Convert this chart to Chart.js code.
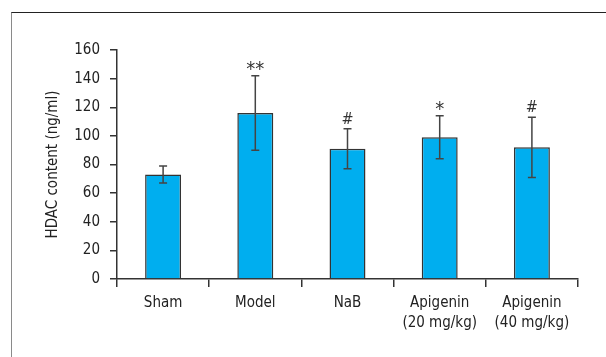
<!DOCTYPE html>
<html>
<head>
<meta charset="utf-8">
<script src="https://cdn.jsdelivr.net/npm/chart.js@4/dist/chart.umd.min.js"></script>
<style>
  html, body { margin: 0; padding: 0; background: #fff; }
  #wrap { position: relative; width: 606px; height: 357px; }
  #frame { position: absolute; left: 11px; top: 12px; right: 0; bottom: 0;
           border-left: 1.5px solid #8a8a8a; border-top: 1.5px solid #222; }
  canvas { position: absolute; left: 0; top: 0; }
</style>
</head>
<body>
<div id="wrap">
  <div id="frame"></div>
  <canvas id="hdacChart" width="606" height="357"></canvas>
</div>
<script>
// data
const groups = [["Sham"], ["Model"], ["NaB"], ["Apigenin", "(20 mg/kg)"], ["Apigenin", "(40 mg/kg)"]];
const hdacMean = [73, 116, 91, 99, 92];
const hdacSD = [6, 26, 14, 15, 21];
const marks = ["", "**", "#", "*", "#"];
const yTicks = [0, 20, 40, 60, 80, 100, 120, 140, 160];

const FONT = "'Liberation Sans Narrow', 'DejaVu Sans Condensed', 'Arial Narrow', sans-serif";

// error bars + significance marks
const errorBars = {
    id: "errorBars",
    afterDatasetsDraw(chart) {
        const ctx = chart.ctx;
        const x = chart.scales.x, y = chart.scales.y;
        ctx.save();
        ctx.strokeStyle = "#444";
        ctx.lineWidth = 1.5;
        hdacMean.forEach((m, i) => {
            const cx = x.getPixelForValue(i);
            const top = y.getPixelForValue(m + hdacSD[i]);
            const bot = y.getPixelForValue(m - hdacSD[i]);
            ctx.beginPath();
            ctx.moveTo(cx, top); ctx.lineTo(cx, bot);
            ctx.moveTo(cx - 4, top); ctx.lineTo(cx + 4, top);
            ctx.moveTo(cx - 4, bot); ctx.lineTo(cx + 4, bot);
            ctx.stroke();
            if (marks[i]) {
                const star = marks[i].includes("*");
                ctx.fillStyle = "#333";
                ctx.font = (star ? "20px " : "16px ") + FONT;
                ctx.textAlign = "center";
                ctx.textBaseline = "alphabetic";
                ctx.fillText(marks[i], cx, star ? top - 1 : top - 5);
            }
        });
        ctx.restore();
    }
};

new Chart(document.getElementById("hdacChart").getContext("2d"), {
    type: "bar",
    data: {
        labels: groups,
        datasets: [{
            data: hdacMean,
            backgroundColor: "#00AEEF",
            borderColor: "#333",
            borderWidth: 1.5,
            barPercentage: 0.39,
            categoryPercentage: 1
        }]
    },
    options: {
        responsive: false,
        animation: false,
        layout: { padding: { left: 40, top: 50, right: 28, bottom: 0 } },
        plugins: { legend: { display: false }, tooltip: { enabled: false } },
        scales: {
            x: {
                afterFit: s => { s.height = 78; },
                grid: { offset: true, drawOnChartArea: false, tickLength: 8, color: "#333", lineWidth: 1.5 },
                border: { color: "#333", width: 1.5 },
                ticks: { color: "#222", padding: 6, maxRotation: 0,
                         font: { family: FONT, size: 15, lineHeight: 1.35 } }
            },
            y: {
                min: 0, max: 160,
                afterFit: s => { s.width = 77; },
                afterBuildTicks: s => { s.ticks = yTicks.map(v => ({ value: v })); },
                grid: { drawOnChartArea: false, tickLength: 7, color: "#333", lineWidth: 1.5 },
                border: { color: "#333", width: 1.5 },
                ticks: { color: "#222", padding: 10, font: { family: FONT, size: 15 } },
                title: { display: true, text: "HDAC content (ng/ml)", color: "#222",
                         padding: { top: 4, bottom: 0 }, font: { family: FONT, size: 15 } }
            }
        }
    },
    plugins: [errorBars]
});
</script>
</body>
</html>
